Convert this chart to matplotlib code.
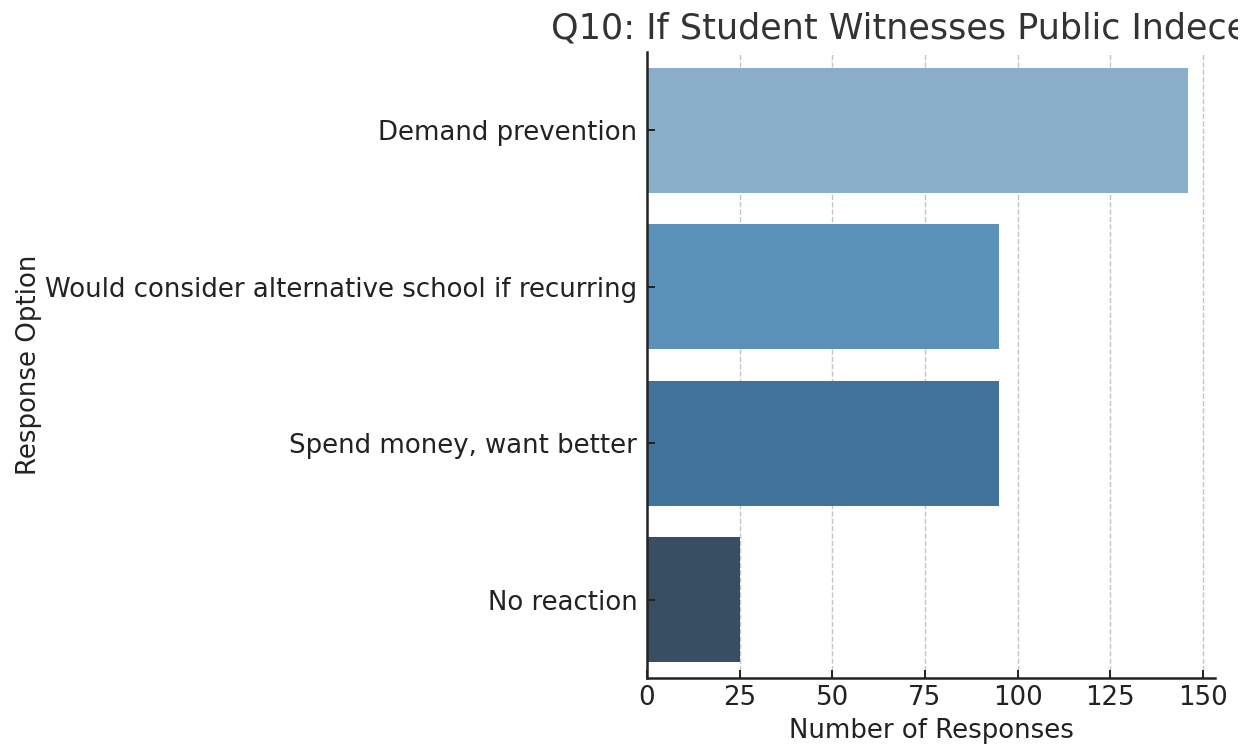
import matplotlib
matplotlib.use("Agg")
import matplotlib.pyplot as plt
from matplotlib.transforms import Bbox

categories = ["Demand prevention", "Would consider alternative school if recurring",
              "Spend money, want better", "No reaction"]
values = [146, 95, 95, 25]
colors = ["#88aec8", "#5a91b8", "#41739a", "#384f63"]
xticks = [0, 25, 50, 75, 100, 125, 150]
title = "Q10: If Student Witnesses Public Indecency"

plt.rcParams['font.family'] = ['DejaVu Sans']
fig = plt.figure(figsize=(12.56, 7.5), dpi=100)
ax = fig.add_axes([647/1256, 1-678/750, (1215-647)/1256, (678-52)/750])

ypos = list(range(len(categories)))
ax.barh(ypos, values, height=0.8, color=colors, zorder=2)
ax.set_yticks(ypos)
ax.set_yticklabels(categories)
ax.set_ylim(3.5, -0.5)
ax.set_xlim(0, max(values) * 1.05)
ax.set_xticks(xticks)
for t in xticks[1:]:
    ax.axvline(t, linestyle='--', color='#c4c4c4', linewidth=1, zorder=0)
ax.set_axisbelow(False)

ax.spines['top'].set_visible(False)
ax.spines['right'].set_visible(False)
for s in ['left', 'bottom']:
    ax.spines[s].set_color('#222222')
    ax.spines[s].set_linewidth(1.8)
ax.tick_params(axis='both', labelsize=18.7, colors='#222222', length=6, width=1.4,
               direction='in', pad=7)
ax.tick_params(axis='x', pad=5)

ax.set_xlabel("Number of Responses", fontsize=18.7, color='#222222', labelpad=5)
ax.set_ylabel("Response Option", fontsize=18.7, color='#222222', labelpad=2)
t = ax.set_title(title, fontsize=25.2, color='#333333', pad=9)
# the reference image crops the title at its right side
t.set_clip_box(Bbox([[0, 0], [1238, 750]]))
t.set_clip_on(True)

fig.savefig("out.png", dpi=100)
